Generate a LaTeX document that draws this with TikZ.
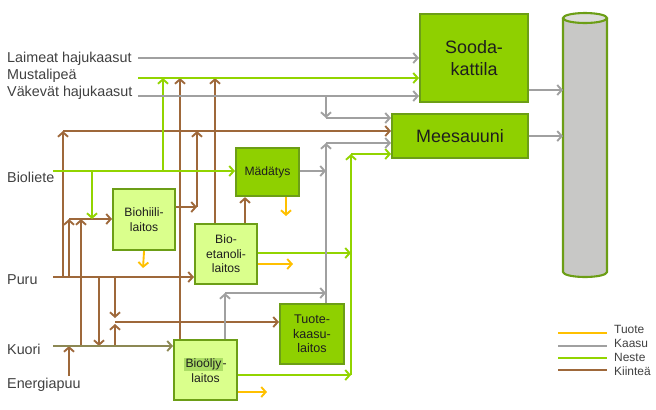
\documentclass[tikz,border=0pt]{standalone}
\usepackage{fontspec}
\setmainfont{Liberation Sans}
\usetikzlibrary{arrows.meta}
\definecolor{gasc}{RGB}{160,160,160}
\definecolor{liqc}{RGB}{146,212,0}
\definecolor{solc}{RGB}{158,104,58}
\definecolor{prodc}{RGB}{255,192,0}
\definecolor{barkc}{RGB}{140,136,84}
\definecolor{darkfill}{RGB}{143,208,0}
\definecolor{lightfill}{RGB}{218,255,140}
\definecolor{boxedge}{RGB}{108,158,22}
\definecolor{cylfill}{RGB}{200,200,198}
\definecolor{cyltop}{RGB}{220,220,218}
\definecolor{txt}{RGB}{30,30,30}
\definecolor{lbltxt}{RGB}{64,64,64}
\definecolor{hl}{RGB}{170,220,100}
\begin{document}
\begin{tikzpicture}[x=1bp,y=-1bp,
  flow/.style={line width=1.9bp,-{Straight Barb[length=4.5bp,width=10bp]}},
  plain/.style={line width=1.9bp},
  gas/.style={flow,draw=gasc},
  liq/.style={flow,draw=liqc},
  sol/.style={flow,draw=solc},
  prod/.style={flow,draw=prodc},
  bark/.style={flow,draw=barkc},
  boxbase/.style={draw=boxedge,line width=2.1bp,anchor=north west,inner sep=0pt,align=center,text=txt},
  bigbox/.style={boxbase,fill=darkfill,font=\fontsize{18}{21.6}\selectfont},
  darkbox/.style={boxbase,fill=darkfill,font=\fontsize{12.2}{14.6}\selectfont},
  lightbox/.style={boxbase,fill=lightfill,font=\fontsize{12.2}{14.6}\selectfont},
  lbl/.style={anchor=base west,inner sep=0pt,text=lbltxt,font=\fontsize{14.4}{17}\selectfont},
  leg/.style={anchor=base west,inner sep=0pt,text=lbltxt,font=\fontsize{12}{14}\selectfont},
]
\useasboundingbox (0,0) rectangle (656,409);

% ---------- boxes ----------
\node[bigbox,minimum width=108bp,minimum height=88bp] (sooda) at (419,13) {Sooda-\\kattila};
\node[bigbox,minimum width=136bp,minimum height=44bp] (mees) at (391,113) {Meesauuni};
\node[darkbox,minimum width=63bp,minimum height=48bp] (madat) at (235,147) {Mädätys};
\node[lightbox,minimum width=62bp,minimum height=61bp] (biohiili) at (112,188) {Biohiili-\\laitos};
\node[lightbox,minimum width=62bp,minimum height=60bp] (bioet) at (194,223) {Bio-\\etanoli-\\laitos};
\node[darkbox,minimum width=64bp,minimum height=60bp,font=\fontsize{12.6}{14.6}\selectfont] (tuote) at (279,303) {Tuote-\\kaasu-\\laitos};
\node[lightbox,minimum width=63bp,minimum height=60bp] (bioolj) at (173,339)
  {{\setlength{\fboxsep}{1.2bp}\colorbox{hl}{Bioöljy}}-\\laitos};

% cylinder
\node[minimum width=44bp,minimum height=264bp,anchor=north west,inner sep=0pt] (cyl) at (563,13) {};
\fill[cylfill] (563,18) -- (563,272) arc[start angle=180,end angle=360,x radius=22,y radius=-5] -- (607,18) -- cycle;
\draw[boxedge,line width=2.1bp] (563,18) -- (563,272) arc[start angle=180,end angle=360,x radius=22,y radius=-5] -- (607,18);
\draw[boxedge,line width=2.1bp,fill=cyltop] (585,18) ellipse[x radius=22,y radius=5];

% ---------- labels ----------
\node[lbl] (tLaim) at (7,62.5) {Laimeat hajukaasut};
\node[lbl] (tMust) at (7,79.5) {Mustalipeä};
\node[lbl] (tVak) at (7,96.5) {Väkevät hajukaasut};
\node[lbl] (tBiol) at (7,182.5) {Bioliete};
\node[lbl] (tPuru) at (7,284.5) {Puru};
\node[lbl] (tKuori) at (7,354.5) {Kuori};
\node[lbl] (tEner) at (7,388.5) {Energiapuu};

\coordinate (sLaim) at (138,58);
\coordinate (sMust) at (138,78);
\coordinate (sVak) at (138,96);
\coordinate (sBiol) at (53,171);
\coordinate (sPuru) at (53,277);
\coordinate (sKuori) at (53,346);
\coordinate (sEner) at (69,376);

% junction coordinates
\coordinate (jV) at (326,96);
\coordinate (jV2) at (326,118);
\coordinate (jTop) at (63,131);
\coordinate (jT1) at (326,143);
\coordinate (jN1) at (351,154);
\coordinate (jN2) at (351,253);
\coordinate (jN3) at (351,375);
\coordinate (jB1) at (197,207);
\coordinate (jB2) at (197,131);
\coordinate (jMg) at (326,171);
\coordinate (jO1) at (225,293);
\coordinate (jO2) at (326,293);
\coordinate (jH1) at (69,219);
\coordinate (jH2) at (81,219);
\coordinate (jP1) at (99,277);
\coordinate (jP2) at (115,277);
\coordinate (jK1) at (115,318);
\coordinate (jK2) at (115,324);
\coordinate (jK3) at (115,322);

% ---------- brown (solid) ----------
\draw[sol] (sPuru -| jTop) -- (jTop);
\draw[sol] (jTop) -- (jTop -| mees.west);
\draw[sol] (bioolj.north -| 180,0) -- (sMust -| 180,0);
\draw[sol] (bioet.north -| 215,0) -- (sMust -| 215,0);
\draw[sol] (biohiili.east |- jB1) -- (jB1);
\draw[sol] (jB1) -- (jB2);
\draw[sol] (bioet.north -| 245,0) -- (madat.south -| 245,0);
\draw[sol] (sPuru) -- (sPuru -| bioet.west);
\draw[sol] (sPuru -| jH1) -- (jH1);
\draw[sol] (sKuori -| jH2) -- (jH2);
\draw[sol] (jH1) -- (jH1 -| biohiili.west);
\draw[sol] (jP1) -- (sKuori -| jP1);
\draw[sol] (jP2) -- (jK1);
\draw[sol] (sKuori -| jK2) -- (jK2);
\draw[sol] (jK3) -- (jK3 -| tuote.west);
\draw[sol] (sEner) -- (sEner |- sKuori);
% ---------- bark ----------
\draw[bark] (sKuori) -- (sKuori -| bioolj.west);

% ---------- green (liquid) ----------
\draw[liq] (sMust) -- (sMust -| sooda.west);
\draw[liq] (sBiol) -- (sBiol -| madat.west);
\draw[liq] (163,171) -- (163,78);
\draw[liq] (92,171) -- (92,219);
\draw[liq] (jN3) -- (jN1);
\draw[liq] (jN1) -- (jN1 -| mees.west);
\draw[liq] (bioet.east |- jN2) -- (jN2);
\draw[liq] (bioolj.east |- jN3) -- (jN3);

% ---------- gray (gas) ----------
\draw[gas] (sLaim) -- (sLaim -| sooda.west);
\draw[gas] (sVak) -- (sVak -| sooda.west);
\draw[gas] (jV) -- (jV2);
\draw[gas] (jV2) -- (jV2 -| mees.west);
\draw[gas] (tuote.north -| jT1) -- (jT1);
\draw[gas] (jT1) -- (jT1 -| mees.west);
\draw[gas] (madat.east |- jMg) -- (jMg);
\draw[gas] (bioolj.north -| jO1) -- (jO1);
\draw[gas] (jO1) -- (jO2);
\draw[gas] (sooda.east |- 0,90) -- (cyl.west |- 0,90);
\draw[gas] (mees.east) -- (mees.east -| cyl.west);

% ---------- yellow (product) ----------
\draw[prod] (madat.south -| 286,0) -- (286,216);
\draw[prod] (biohiili.south) -- (143,268);
\draw[prod] (bioet.east |- 0,264) -- (293,264);
\draw[prod] (bioolj.east |- 0,392) -- (267,392);

% ---------- legend ----------
\draw[plain,draw=prodc] (558,333) -- (607,333);
\draw[plain,draw=gasc] (558,346) -- (607,346);
\draw[plain,draw=liqc] (558,358) -- (607,358);
\draw[plain,draw=solc] (558,370) -- (607,370);
\node[leg] (lg1) at (614,333) {Tuote};
\node[leg] (lg2) at (614,347) {Kaasu};
\node[leg] (lg3) at (614,361) {Neste};
\node[leg] (lg4) at (614,375) {Kiinteä};
\end{tikzpicture}
\end{document}
